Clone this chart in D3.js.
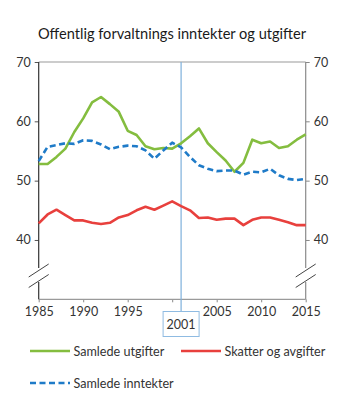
<!DOCTYPE html>
<html lang="no">
<head>
  <meta charset="UTF-8">
  <title>Offentlig forvaltnings inntekter og utgifter</title>
  <script src="https://d3js.org/d3.v7.min.js"></script>
  <style>
    body { margin: 0; background: #fff; }
    svg { display: block; font-family: Lato, "Open Sans", sans-serif; }
    .tick text { font-size: 12.5px; fill: #333; font-family: Lato, sans-serif; }
  </style>
</head>
<body>
  <div id="chart"></div>
  <script>
    const years = [1985, 1986, 1987, 1988, 1989, 1990, 1991, 1992, 1993, 1994, 1995,
      1996, 1997, 1998, 1999, 2000, 2001, 2002, 2003, 2004, 2005,
      2006, 2007, 2008, 2009, 2010, 2011, 2012, 2013, 2014, 2015];

    // Samlede utgifter
    const utgifter = [52.8, 52.8, 54.0, 55.4, 58.2, 60.5, 63.2, 64.1, 62.9, 61.6, 58.4,
      57.7, 55.8, 55.3, 55.5, 55.4, 56.3, 57.5, 58.8, 56.3, 54.8,
      53.4, 51.5, 53.0, 56.9, 56.3, 56.6, 55.5, 55.8, 56.9, 57.8];

    // Skatter og avgifter
    const skatter = [42.8, 44.3, 45.1, 44.2, 43.3, 43.3, 42.9, 42.7, 42.9, 43.8, 44.2,
      45.0, 45.6, 45.1, 45.8, 46.5, 45.7, 45.0, 43.7, 43.8, 43.4,
      43.6, 43.6, 42.5, 43.4, 43.8, 43.8, 43.4, 43.0, 42.5, 42.5];

    // Samlede inntekter
    const inntekter = [53.3, 55.7, 56.0, 56.3, 56.2, 56.8, 56.7, 56.1, 55.3, 55.7, 55.9,
      55.8, 55.1, 53.7, 55.1, 56.4, 55.6, 54.0, 52.6, 52.0, 51.6,
      51.7, 51.7, 51.0, 51.5, 51.4, 52.0, 50.9, 50.3, 50.1, 50.3];

    const yTicks = [40, 50, 60, 70];
    const xTicks = [1985, 1990, 1995, 2000, 2005, 2010, 2015];
    const markYear = 2001;

    const series = [
      { name: "Samlede utgifter", values: utgifter, color: "#84bd3f", dash: null },
      { name: "Skatter og avgifter", values: skatter, color: "#e8403d", dash: null },
      { name: "Samlede inntekter", values: inntekter, color: "#1f7bc8", dash: "6,3.5" }
    ];

    const width = 345, height = 404;
    const plotLeft = 38.7, plotRight = 305.7, plotTop = 62, plotBottom = 299.3;

    const svg = d3.select("#chart").append("svg")
      .attr("width", width)
      .attr("height", height);

    const x = d3.scaleLinear().domain([1985, 2015]).range([plotLeft, plotRight]);
    const y = d3.scaleLinear().domain([30, 70]).range([plotBottom, plotTop]);

    svg.append("text")
      .attr("x", 172)
      .attr("y", 39)
      .attr("text-anchor", "middle")
      .attr("font-size", 14.6)
      .attr("fill", "#1a1a1a")
      .text("Offentlig forvaltnings inntekter og utgifter");

    // frame: top line, right axis grey, left axis dark
    svg.append("line")
      .attr("x1", plotLeft).attr("x2", plotRight).attr("y1", plotTop).attr("y2", plotTop)
      .attr("stroke", "#9a9a9a").attr("stroke-width", 1.2);

    const leftAxis = svg.append("g")
      .attr("transform", `translate(${plotLeft},0)`)
      .call(d3.axisLeft(y).tickValues(yTicks).tickSize(4).tickPadding(4));
    leftAxis.select(".domain").remove();
    leftAxis.selectAll(".tick line").attr("stroke", "#555");

    const rightAxis = svg.append("g")
      .attr("transform", `translate(${plotRight},0)`)
      .call(d3.axisRight(y).tickValues(yTicks).tickSize(4).tickPadding(4));
    rightAxis.select(".domain").remove();
    rightAxis.selectAll(".tick line").attr("stroke", "#888");

    // the 2000 label sits under the marker box, so only its tick is drawn
    const xAxis = svg.append("g")
      .attr("transform", `translate(0,${plotBottom})`)
      .call(d3.axisBottom(x).tickValues(xTicks)
        .tickFormat(d => d === 2000 ? "" : d3.format("d")(d))
        .tickSize(3).tickPadding(5));
    xAxis.select(".domain").remove();
    xAxis.selectAll(".tick line").attr("stroke", "#888");

    svg.append("line")
      .attr("x1", plotLeft).attr("x2", plotRight).attr("y1", plotBottom).attr("y2", plotBottom)
      .attr("stroke", "#9a9a9a").attr("stroke-width", 1.2);

    svg.append("line")
      .attr("x1", plotLeft).attr("x2", plotLeft).attr("y1", plotTop).attr("y2", plotBottom)
      .attr("stroke", "#333").attr("stroke-width", 1.2);
    svg.append("line")
      .attr("x1", plotRight).attr("x2", plotRight).attr("y1", plotTop).attr("y2", plotBottom)
      .attr("stroke", "#8a8a8a").attr("stroke-width", 1.2);

    // axis break marks
    [plotLeft, plotRight].forEach(ax => {
      svg.append("rect")
        .attr("x", ax - 3).attr("y", 268).attr("width", 6).attr("height", 14)
        .attr("fill", "#fff");
      [0, 10.5].forEach(off => {
        svg.append("line")
          .attr("x1", ax - 10).attr("y1", 277 + off)
          .attr("x2", ax + 10).attr("y2", 264 + off)
          .attr("stroke", "#444").attr("stroke-width", 1);
      });
    });

    // marker line for 2001
    svg.append("line")
      .attr("x1", x(markYear)).attr("x2", x(markYear))
      .attr("y1", plotTop).attr("y2", 311.5)
      .attr("stroke", "#7fb0dc").attr("stroke-width", 1.2);
    svg.append("rect")
      .attr("x", x(markYear) - 18).attr("y", 311.5)
      .attr("width", 36).attr("height", 25)
      .attr("fill", "#fff").attr("stroke", "#8fbbe2").attr("stroke-width", 1);
    svg.append("text")
      .attr("x", x(markYear)).attr("y", 328.5)
      .attr("text-anchor", "middle")
      .attr("font-size", 12.5).attr("fill", "#333")
      .text(markYear);

    const line = d3.line()
      .x((d, i) => x(years[i]))
      .y(d => y(d));

    svg.selectAll(".series")
      .data(series)
      .enter()
      .append("path")
      .attr("class", "series")
      .attr("d", d => line(d.values))
      .attr("fill", "none")
      .attr("stroke", d => d.color)
      .attr("stroke-width", 2.6)
      .attr("stroke-linejoin", "round")
      .attr("stroke-dasharray", d => d.dash);

    // legend
    const legendPos = [
      { x: 30, y: 351 },
      { x: 181, y: 351 },
      { x: 30, y: 383 }
    ];
    const legend = svg.selectAll(".legend")
      .data(series)
      .enter()
      .append("g")
      .attr("class", "legend")
      .attr("transform", (d, i) => `translate(${legendPos[i].x},${legendPos[i].y})`);
    legend.append("line")
      .attr("x1", 0).attr("x2", 40)
      .attr("stroke", d => d.color)
      .attr("stroke-width", 2.6)
      .attr("stroke-dasharray", d => d.dash);
    legend.append("text")
      .attr("x", 43.5).attr("y", 4.5)
      .attr("font-size", 12.6).attr("fill", "#333")
      .text(d => d.name);
  </script>
</body>
</html>
